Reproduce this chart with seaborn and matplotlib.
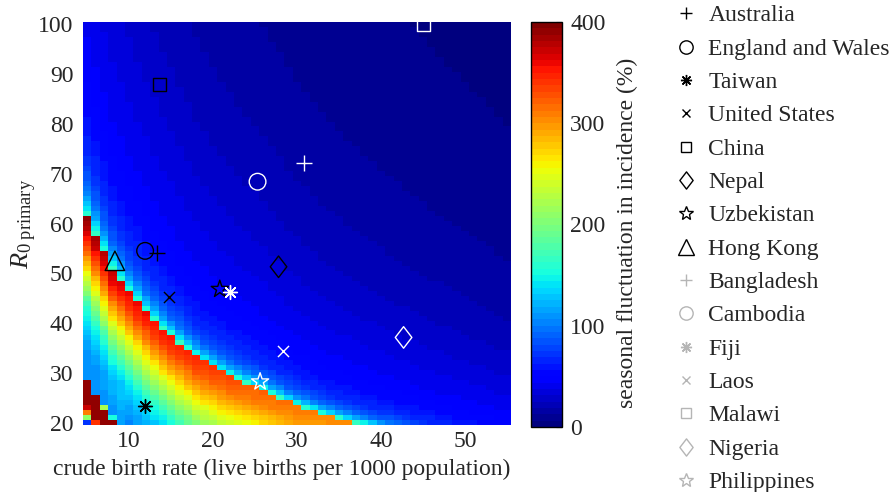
import numpy as np
import pandas as pd
import matplotlib
matplotlib.use("Agg")
import matplotlib.pyplot as plt
from matplotlib.lines import Line2D
from matplotlib.path import Path
from matplotlib.markers import MarkerStyle
import seaborn as sns

# ---------------- data ----------------
countries = ["Australia", "England and Wales", "Taiwan", "United States", "China",
             "Nepal", "Uzbekistan", "Hong Kong", "Bangladesh", "Cambodia", "Fiji",
             "Laos", "Malawi", "Nigeria", "Philippines"]
birth_rate = [13.3, 11.9, 11.9, 14.8, 13.6, 27.8, 20.8, 8.3,
              30.8, 25.3, 22.0, 28.3, 45.1, 42.7, 25.6]
r0_primary = [54.0, 54.5, 23.4, 45.3, 88.0, 51.3, 46.8, 52.5,
              72.1, 68.4, 46.3, 34.4, 100.0, 37.1, 28.2]
group = ["dark"] * 8 + ["light"] * 7

# heat-map grid (crude birth rate x R0 primary)
grid_birth = list(range(5, 56))
grid_r0 = list(range(20, 101))
# upper (sharp) edge of the resonance band
edge_birth = [5, 8, 10, 12, 14, 16, 18, 20, 22, 25, 28, 30, 33, 36, 40, 45, 55]
edge_r0 = [61.5, 51, 46.5, 42.5, 39, 36, 33.3, 31.2, 29.4, 27.2, 25, 23.5, 21.8,
           20.4, 18.8, 17, 14]
# peak fluctuation along the band
peak_birth = [5, 8, 10, 15, 20, 25, 30, 35, 40]
peak_value = [395, 375, 365, 355, 340, 325, 315, 305, 300]
# profile below the edge (depth in R0 units -> fraction of peak)
below_depth = [0, 3, 6, 10, 14, 18, 22, 27, 32, 40]
below_frac = [1.0, 0.95, 0.85, 0.70, 0.56, 0.42, 0.34, 0.28, 0.27, 0.27]
# profile above the edge (R0 / edge ratio -> fluctuation %)
above_ratio = [1.0, 1.02, 1.05, 1.1, 1.2, 1.35, 1.6, 1.95, 2.35, 2.9, 3.45, 4.3, 5.8, 7.5]
above_value = [165, 145, 118, 90, 68, 54, 43, 34, 26, 19, 14, 10, 6, 3]
# lower-left corner (second resonance), rows R0 = 20..28, cols birth = 5..9
corner_birth = [5, 6, 7, 8, 9]
corner_r0 = [20, 21, 22, 23, 24, 25, 26, 27, 28]
corner_value = [
    [70, 340, 390, 390, 115],
    [210, 390, 390, 150, 115],
    [310, 390, 390, 110, 115],
    [370, 390, 220, 110, 120],
    [390, 390, 110, 115, 120],
    [390, 390, 110, 115, 125],
    [390, 110, 110, 120, 125],
    [390, 110, 115, 120, 130],
    [390, 110, 115, 120, 130],
]
cbar_ticks = [0, 100, 200, 300, 400]
x_ticks = [10, 20, 30, 40, 50]
y_ticks = [20, 30, 40, 50, 60, 70, 80, 90, 100]

# ---------------- build field ----------------
B, R = np.meshgrid(np.array(grid_birth, float), np.array(grid_r0, float))
edge = np.interp(B, edge_birth, edge_r0)
peak = np.interp(B, peak_birth, peak_value)
lower = peak * np.interp(edge - R, below_depth, below_frac)
upper = np.interp(R / edge, above_ratio, above_value)
Z = np.where(R < edge, lower, upper)
for i, r in enumerate(corner_r0):
    for j, b in enumerate(corner_birth):
        Z[grid_r0.index(r), grid_birth.index(b)] = corner_value[i][j]

# ---------------- style ----------------
sns.set_style("white")
plt.rcParams["font.family"] = ["Liberation Serif", "DejaVu Serif"]
plt.rcParams["mathtext.fontset"] = "custom"
plt.rcParams["mathtext.rm"] = "Liberation Serif"
plt.rcParams["mathtext.it"] = "Liberation Serif:italic"
FS = 17

marker_style = {
    "Australia": "+", "Bangladesh": "+",
    "England and Wales": "o", "Cambodia": "o",
    "Taiwan": (8, 2, 0), "Fiji": (8, 2, 0),
    "United States": "x", "Laos": "x",
    "China": "s", "Malawi": "s",
    "Nepal": "D", "Nigeria": "D",
    "Uzbekistan": "*", "Philippines": "*",
    "Hong Kong": "^",
}
diamond = Path([(0, 1), (0.77, 0), (0, -1), (-0.77, 0), (0, 1)],
               [Path.MOVETO, Path.LINETO, Path.LINETO, Path.LINETO, Path.CLOSEPOLY])
marker_size = {"+": 11, "o": 12, (8, 2, 0): 10, "x": 8, "s": 9.5, "D": 15.5,
               "*": 13, "^": 14}
plot_color = {"dark": "black", "light": "white"}
legend_color = {"dark": "black", "light": "#b5b5b5"}

fig = plt.figure(figsize=(8.95, 4.92), dpi=100)
ax = fig.add_axes([83 / 895, 67 / 492, 428 / 895, 403 / 492])
cax = fig.add_axes([531 / 895, 65 / 492, 31 / 895, 405 / 492])

cmap = matplotlib.colormaps["jet"].resampled(64)
im = ax.imshow(Z, origin="lower", cmap=cmap, vmin=0, vmax=400, aspect="auto",
               interpolation="nearest",
               extent=(grid_birth[0] - 0.5, grid_birth[-1] + 0.5,
                       grid_r0[0] - 0.5, grid_r0[-1] + 0.5))

df = pd.DataFrame({"country": countries, "birth": birth_rate, "r0": r0_primary,
                   "group": group})
handles = []
for row in df.itertuples():
    m = marker_style[row.country]
    ms = marker_size[m]
    mk = diamond if m == "D" else m
    c = plot_color[row.group]
    filled = MarkerStyle(mk).is_filled()
    kw = dict(facecolor="none", edgecolor=c) if filled else {}
    sns.scatterplot(data=df[df.country == row.country], x="birth", y="r0", ax=ax,
                    marker=mk, s=ms ** 2, color=c, linewidth=1.0, legend=False,
                    clip_on=False, zorder=3, **kw)
    handles.append(Line2D([], [], linestyle="none", marker=mk, markersize=ms * 0.8,
                          markerfacecolor="none", markeredgecolor=legend_color[row.group],
                          markeredgewidth=1.0))

ax.set_xlim(grid_birth[0] - 0.5, grid_birth[-1] + 0.5)
ax.set_ylim(grid_r0[0] - 0.5, grid_r0[-1] + 0.5)
ax.set_xticks(x_ticks)
ax.set_yticks(y_ticks)
ax.tick_params(axis="both", length=0, labelsize=FS)
ax.tick_params(axis="y", pad=7)
ax.tick_params(axis="x", pad=4)
for s in ax.spines.values():
    s.set_visible(False)
ax.set_xlabel("crude birth rate (live births per 1000 population)", fontsize=FS)
ax.xaxis.set_label_coords(0.465, -0.083)
ax.set_ylabel(r"$R_{0\ \mathrm{primary}}$", fontsize=FS + 2)
ax.yaxis.set_label_coords(-0.102, 0.5)

cb = fig.colorbar(im, cax=cax, ticks=cbar_ticks)
cb.outline.set_linewidth(1.0)
cb.outline.set_edgecolor("black")
cax.tick_params(direction="in", length=4, width=0.8, labelsize=FS, pad=6,
                right=True, left=False)
cax.set_ylabel("seasonal fluctuation in incidence (%)", fontsize=FS)
cax.yaxis.set_label_coords(2.77, 0.48)

fig.legend(handles, countries, loc="upper left", bbox_to_anchor=(0.7533, 0.99),
           bbox_transform=fig.transFigure, frameon=False, borderpad=0,
           borderaxespad=0, handlelength=1.0, handletextpad=0.45,
           labelspacing=0.5, fontsize=FS)

fig.savefig("out.png", dpi=100)
